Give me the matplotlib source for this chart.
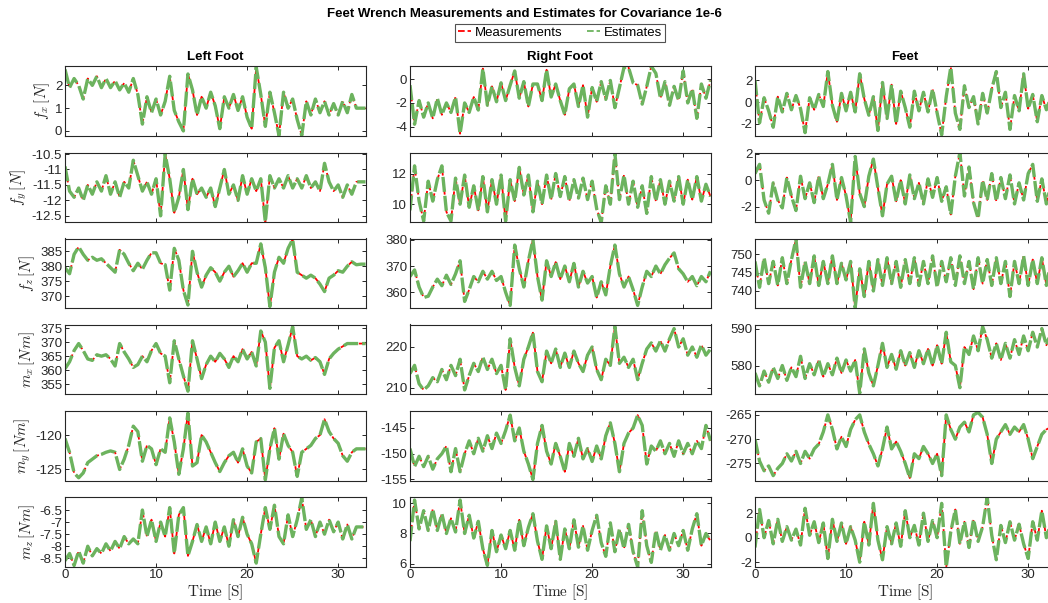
import numpy as np
import matplotlib
matplotlib.use("Agg")
import matplotlib.pyplot as plt
from matplotlib.lines import Line2D
from matplotlib.ticker import FormatStrFormatter

plt.rcParams['font.family'] = ['Liberation Sans', 'DejaVu Sans']
plt.rcParams['mathtext.fontset'] = 'cm'

# sample times [s], one reading every half second
time = np.arange(0, 33.5, 0.5)

# ---- Left foot ----
left_fx = [2.7, 1.9, 2.3, 2.0, 1.4, 2.3, 2.0, 2.4, 1.9, 2.3, 1.9, 2.2, 1.8, 2.1, 1.7, 2.3, 1.6, 0.3,
           1.5, 0.8, 1.4, 0.7, 1.3, 2.4, 0.9, 0.4, 0.0, 2.5, 1.8, 0.7, 1.5, 1.0, 1.7, 1.1, 0.1, 1.5,
           1.0, 1.6, 0.9, 1.5, 0.6, 0.1, 2.8, 1.6, 0.2, 1.7, 0.8, -0.2, 1.7, 1.0, 1.4, 0.5, -0.2, 1.3,
           0.7, 1.4, 0.8, 1.3, 0.7, 1.2, 0.7, 1.3, 0.8, 1.6, 1.0, 1.0, 1.0]
left_fy = [-10.9, -11.7, -11.9, -11.6, -12.0, -11.5, -11.8, -11.4, -11.7, -11.2, -11.8, -11.4, -11.9,
           -11.4, -11.6, -10.7, -11.2, -11.7, -11.4, -11.8, -11.3, -12.5, -10.5, -11.3, -12.4, -11.9,
           -11.0, -12.3, -11.3, -11.8, -11.6, -11.9, -11.6, -12.2, -11.6, -11.0, -11.8, -11.5, -12.0,
           -11.2, -11.8, -11.3, -11.7, -11.3, -12.7, -11.2, -11.6, -11.3, -11.6, -11.2, -11.6, -11.3,
           -11.6, -11.2, -11.6, -11.4, -11.7, -10.8, -11.4, -11.7, -11.5, -11.9, -11.5, -11.8, -11.4,
           -11.4, -11.4]
left_fz = [379.5, 377.5, 384, 386.5, 384, 382, 383, 382, 382.5, 381, 379.5, 378, 385.5, 384, 381, 378.5,
           381, 379, 382, 384.5, 384.5, 381, 380.5, 372, 386, 382, 372, 367, 385, 378, 373, 377, 379.5,
           378, 375, 378, 380, 376.5, 378.5, 381, 378, 381, 381, 387.5, 379.5, 366.5, 378, 383, 381, 386,
           389, 378, 377, 376, 377, 376, 374, 371.5, 376, 377, 378.5, 378, 380, 381.5, 380.5, 380.7, 380.7]
left_mx = [360.5, 363, 367, 369.5, 367, 364, 363.5, 365.5, 365, 365.5, 364, 361.5, 369.5, 366.5, 364,
           361, 362, 365, 363, 367, 369.5, 366, 365, 355.5, 370.5, 364, 358, 352.5, 370.5, 364, 357, 362,
           365, 363, 366, 364, 361, 365, 363, 367.5, 364, 366.5, 361.5, 374, 370, 353.5, 368, 370.5, 363,
           369, 375.5, 365, 364, 365, 363.5, 364.5, 363, 358.5, 364, 366, 367.5, 368.5, 369.5, 369.5,
           369.5, 369.5, 369.5]
left_my = [-120.5, -122.5, -125.5, -126.2, -125.5, -124, -123.5, -123, -122.8, -122.5, -122.3, -122.5,
           -125, -123.5, -121.5, -118.7, -119.5, -123.8, -121.5, -122, -124.3, -122, -122.5, -117.5,
           -121, -125.7, -122, -116.8, -124.5, -124, -120, -121, -122.5, -124, -125.3, -124, -123,
           -122.5, -124, -122, -124.5, -125.5, -121, -120.5, -126.5, -122, -119, -123.5, -119.8, -121.5,
           -122.5, -126, -122.5, -122, -121.5, -120.5, -120, -117.7, -119.5, -120.5, -121.2, -123,
           -123.8, -122.5, -122, -122, -122]
left_mz = [-8.6, -8.3, -8.8, -8.2, -8.7, -8.0, -8.4, -8.1, -8.3, -7.9, -8.2, -7.8, -8.1, -7.6, -7.9, -7.7,
           -7.9, -6.5, -7.6, -6.9, -7.8, -7.0, -7.6, -6.4, -8.3, -6.7, -6.4, -8.4, -7.8, -7.1, -7.8, -7.2,
           -7.9, -7.0, -7.8, -7.2, -8.0, -6.9, -7.6, -6.8, -7.5, -7.9, -8.7, -7.5, -6.4, -7.3, -6.3, -7.6,
           -7.9, -6.7, -7.6, -6.9, -6.0, -7.3, -6.9, -7.6, -7.0, -7.5, -6.9, -7.4, -7.0, -7.7, -7.1, -7.7,
           -7.2, -7.2, -7.2]

# ---- Right foot ----
right_fx = [-0.5, -3.8, -1.8, -3.2, -2.0, -3.3, -1.6, -3.0, -2.0, -2.8, -1.5, -4.6, -2.0, -2.8, -1.5, -2.6,
            0.9, -2.2, -0.6, -1.9, -0.3, -1.8, -0.5, 0.7, -1.6, -0.2, -2.3, -0.4, -0.4, -1.8, 0.8, -1.5,
            -0.4, -1.8, -3.0, -0.8, -0.4, -2.3, -0.5, -3.2, -0.7, -1.9, -0.2, -1.7, -0.1, -2.4, -0.7, 1.0,
            1.0, -0.3, -0.5, -2.1, -0.6, 1.1, 0.5, -1.6, -0.2, -2.2, -0.6, -1.8, 0.7, -2.0, -0.8, -3.3,
            -0.4, -1.6, -0.1]
right_fy = [9.6, 12.5, 10.2, 8.9, 11.5, 10.2, 11.6, 12.5, 9.5, 8.9, 11.7, 10.0, 11.9, 9.8, 11.2, 9.6, 11.8,
            9.5, 11.6, 10.0, 11.9, 8.9, 11.6, 10.2, 12.4, 10.6, 11.9, 9.5, 11.5, 10.0, 11.9, 10.3, 12.0,
            10.5, 11.8, 10.2, 11.6, 10.4, 11.7, 10.3, 11.5, 9.7, 8.8, 11.2, 10.0, 13.3, 10.3, 11.9, 10.0,
            11.5, 9.8, 11.2, 9.4, 11.8, 10.2, 11.6, 10.0, 11.5, 10.2, 11.8, 10.0, 11.6, 10.3, 11.8, 10.2,
            11.3, 10.5]
right_fz = [366, 368.5, 362, 358, 358.5, 362, 365, 362.5, 366.5, 363, 367, 372, 356.5, 361, 366, 364, 368,
            365, 368, 364.5, 366, 360, 355, 378, 369, 362, 372, 380, 366, 357, 372, 366, 371.5, 365, 370,
            364, 371, 362, 368, 363.5, 366, 358, 364, 359, 370, 378, 367, 362, 366, 361, 355, 362, 368,
            366, 370, 367, 370.5, 373, 375, 369, 367, 364, 366, 362.5, 366, 364, 368]
right_mx = [213.5, 215.5, 211, 209.5, 210.5, 212.5, 211.5, 214.5, 212, 215.5, 213, 217, 209.5, 213, 216,
            214, 217.5, 214.5, 217, 213.5, 215.5, 209.5, 222, 215, 210.5, 217, 220, 223.5, 214, 211.5, 219,
            216, 219.5, 215, 218.5, 215, 219, 216, 214, 218, 220, 214.5, 212, 217, 215.5, 225, 216, 217.5,
            215, 217, 212, 216, 219.5, 221, 219, 221.5, 219, 222, 224.5, 220, 222, 218, 220, 217.5, 220.5,
            218, 219.5]
right_my = [-149, -152.5, -150.5, -152.5, -150.5, -153, -151, -150, -148.5, -153.5, -149, -153.5, -150,
            -147.5, -150, -147, -149.5, -146.5, -149, -146, -148, -145.5, -142.5, -147.5, -145, -149.5,
            -152, -155, -148, -144.5, -149.5, -152, -148, -150.5, -153.5, -148, -150.5, -147, -151, -149,
            -151.5, -148.5, -151, -146.5, -144, -148, -153.5, -148, -146, -145, -142.5, -144.5, -152,
            -148.5, -149.5, -147.5, -150, -148, -150.5, -147.5, -150, -148, -150, -147.5, -149, -144.5,
            -147.5]
right_mz = [7.5, 10.2, 8.3, 9.5, 8.2, 9.6, 8.2, 9.3, 8.0, 9.0, 8.1, 10.2, 8.0, 9.2, 7.7, 8.8, 7.0, 5.9, 8.2,
            6.8, 7.9, 7.0, 8.2, 6.9, 8.9, 7.2, 8.4, 9.3, 7.5, 6.3, 8.5, 7.0, 8.8, 6.3, 8.3, 7.0, 8.9, 7.1,
            8.5, 6.9, 8.2, 9.2, 7.4, 6.5, 8.7, 6.8, 8.3, 7.0, 8.6, 6.8, 5.8, 9.5, 7.2, 6.1, 8.2, 6.9, 7.9,
            6.9, 8.0, 7.2, 8.2, 6.9, 8.3, 9.3, 7.2, 8.0, 7.5]

# ---- Feet (sum) ----
feet_fx = [2.0, -1.9, 0.4, -0.8, -2.3, 0.5, -0.9, 0.8, -0.7, 0.6, -0.6, -2.8, 0.4, -0.7, 0.7, -0.4, 2.8,
           -0.3, -1.8, 0.8, -0.8, 0.9, -0.9, 2.6, 0.3, -1.2, 0.5, -2.6, 1.8, -1.5, 1.6, -2.0, 1.0, -0.5,
           -2.3, 1.0, -0.8, 0.9, -0.9, 1.2, -1.0, -3.0, 0.5, 3.2, -1.0, -2.5, 1.5, -0.5, 0.5, -2.0, 0.8,
           -1.0, 1.2, 2.8, -0.5, 0.9, -2.5, 0.6, -0.8, 2.6, -0.6, 0.7, -1.8, 0.6, -0.7, 0.5, -0.3]
feet_fy = [0.5, 1.2, -1.5, -2.5, -0.2, -1.5, -2.1, 0.2, -1.2, -2.3, 0.3, -1.4, -0.2, -1.7, 0.3, -1.4, -0.3,
           1.2, -1.5, 0.2, -1.2, -3.2, 1.8, -1.0, -2.0, 0.3, 1.6, -0.6, -2.7, -0.3, 0.3, -1.6, 0.0, -1.8,
           0.4, -1.4, -0.2, -1.8, 0.1, -1.3, 0.2, -1.6, -0.5, -2.6, 0.3, 2.1, -1.2, 1.0, -1.7, -2.9, 0.0,
           -1.5, 0.5, -1.6, 0.2, -1.4, 0.4, -1.8, -0.2, -1.5, 0.5, 1.2, -1.6, 0.1, -1.8, -0.3, -1.0]
feet_fz = [748, 741, 749, 742, 748, 741.5, 749, 742, 748.5, 754, 741, 748, 742, 749.5, 741.5, 748, 742,
           749.5, 742, 747.5, 743, 748, 735.5, 746, 738.5, 748, 740, 748.5, 741.5, 749, 742, 748, 741,
           748.5, 742, 749, 741.5, 748, 742, 749.5, 741, 748, 742.5, 749, 741.5, 749.5, 742, 748, 740.5,
           749, 742, 748.5, 741.5, 749, 742, 748, 738.5, 748, 742, 749.5, 741.5, 748.5, 742, 749, 741.5,
           748, 743]
feet_mx = [578, 574.5, 578.5, 575.5, 579.5, 576.5, 580, 576, 579.5, 577, 582.5, 576.5, 580.5, 577.5,
           581.5, 577, 580.5, 577.5, 582, 578, 581.5, 578.5, 581.5, 572.5, 584.5, 578, 574.5, 580, 586,
           579.5, 583, 579, 584, 580, 583.5, 579.5, 584, 580.5, 584.5, 580, 585.5, 580.5, 589, 581, 580,
           574, 585, 583, 588, 584, 590.5, 587, 582, 586, 581.5, 586, 582, 587, 583, 588, 584, 589, 585,
           590, 585.5, 589, 587]
feet_my = [-270, -274.5, -276.5, -275.5, -277.5, -276, -275, -273, -274.5, -272.5, -275, -272.5, -274,
           -272, -271, -268.5, -265, -268, -272, -269.5, -271.5, -268, -266, -265, -268.5, -271, -273,
           -275.5, -272, -267.5, -272, -270.5, -272.5, -275, -278, -273, -274, -271.5, -273, -275, -273,
           -277.5, -265, -268, -270, -267.5, -266.5, -268.5, -265, -264.5, -265.5, -269, -275, -270,
           -268.5, -267, -269, -267.5, -268.5, -267, -270, -274, -271.5, -269, -268, -267.5, -268]
feet_mz = [-0.8, 2.3, 0.0, 1.4, -0.5, 1.5, -0.3, 0.9, -0.2, 0.7, -0.6, 2.4, 0.2, 1.3, -0.4, 1.2, -1.7, 1.5,
           -0.3, 1.2, -0.5, 0.9, -0.2, -2.0, 1.3, -0.6, 2.8, -0.2, -1.8, 0.9, -0.5, 1.2, -0.7, 2.2, 0.0,
           1.0, -0.6, 2.0, -0.3, 1.4, 0.0, 2.8, -2.4, 0.5, 2.3, -0.5, 1.3, -0.8, 1.5, -0.3, 0.9, 3.3, 0.2,
           -1.8, 1.0, -0.4, 1.3, -0.2, 1.1, -0.5, -1.7, 1.3, -0.2, 2.2, 0.0, 1.2, 0.6]

col_titles = ['Left Foot', 'Right Foot', 'Feet']
row_labels = [r'$f_x\,[N]$', r'$f_y\,[N]$', r'$f_z\,[N]$',
              r'$m_x\,[Nm]$', r'$m_y\,[Nm]$', r'$m_z\,[Nm]$']
columns = [[left_fx, left_fy, left_fz, left_mx, left_my, left_mz],
           [right_fx, right_fy, right_fz, right_mx, right_my, right_mz],
           [feet_fx, feet_fy, feet_fz, feet_mx, feet_my, feet_mz]]

ylims = [[(-0.2, 2.85), (-12.7, -10.45), (366, 389.3), (351.5, 376.3), (-126.6, -116.5), (-8.84, -5.96)],
         [(-4.75, 1.12), (8.84, 13.37), (354, 380.5), (208.5, 225.5), (-155.2, -141.7), (5.83, 10.4)],
         [(-3.06, 3.31), (-3.17, 2.1), (735.4, 754.2), (572.3, 591.1), (-278.5, -264.2), (-2.35, 3.32)]]
yticks = [[[0, 1, 2], [-12.5, -12, -11.5, -11, -10.5], [370, 375, 380, 385], [355, 360, 365, 370, 375],
           [-125, -120], [-8.5, -8, -7.5, -7, -6.5]],
          [[-4, -2, 0], [10, 12], [360, 370, 380], [210, 220], [-155, -150, -145], [6, 8, 10]],
          [[-2, 0, 2], [-2, 0, 2], [740, 745, 750], [580, 590], [-275, -270, -265], [-2, 0, 2]]]

W, H = 1048, 603
fig = plt.figure(figsize=(W / 100, H / 100), dpi=100)

lefts = [65, 410, 755]
tops = [66, 152.5, 238.5, 324.5, 411, 497]
aw, ah = 300.5, 69.5

ink = '#262626'
meas_col = 'red'
est_col = '#6cb35e'
for c in range(3):
    for r in range(6):
        ax = fig.add_axes([lefts[c] / W, 1 - (tops[r] + ah) / H, aw / W, ah / H])
        vals = columns[c][r]
        ax.plot(time, vals, color=meas_col, ls='--', lw=1.3)
        ax.plot(time, vals, color=est_col, ls=(0, (4.5, 1.2)), lw=2.4)
        ax.set_xlim(0, 33)
        ax.set_ylim(*ylims[c][r])
        ax.set_yticks(yticks[c][r])
        ax.yaxis.set_major_formatter(FormatStrFormatter('%g'))
        ax.set_xticks([0, 10, 20, 30])
        ax.tick_params(direction='in', top=True, right=True, length=3, width=0.7,
                       labelsize=9.5, colors=ink, pad=2)
        for s in ax.spines.values():
            s.set_color(ink)
            s.set_linewidth(0.8)
        if r < 5:
            ax.set_xticklabels([])
        else:
            ax.set_xlabel(r'$\mathrm{Time\ [S]}$', fontsize=11, color=ink, labelpad=1)
        if c == 0:
            ax.set_ylabel(row_labels[r], fontsize=11, color=ink, labelpad=2)
        if r == 0:
            ax.set_title(col_titles[c], fontsize=9.5, fontweight='bold', pad=4)

fig.text(0.5, 1 - 14 / H, 'Feet Wrench Measurements and Estimates for Covariance 1e-6',
         ha='center', va='center', fontsize=9.5, fontweight='bold')

# legend swatches drawn thin, as in the original
handles = [Line2D([], [], color=meas_col, ls='--', lw=1.3),
           Line2D([], [], color=est_col, ls='--', lw=1.3)]
leg = fig.legend(handles, ['Measurements', 'Estimates'], loc='center',
                 bbox_to_anchor=(560 / W, 1 - 33 / H), ncol=2, fontsize=9.5, frameon=True,
                 fancybox=False, edgecolor=ink, handlelength=1.0, handletextpad=0.3,
                 columnspacing=1.8, borderpad=0.2, borderaxespad=0)
leg.get_frame().set_linewidth(0.8)

fig.savefig('out.png', dpi=100)
